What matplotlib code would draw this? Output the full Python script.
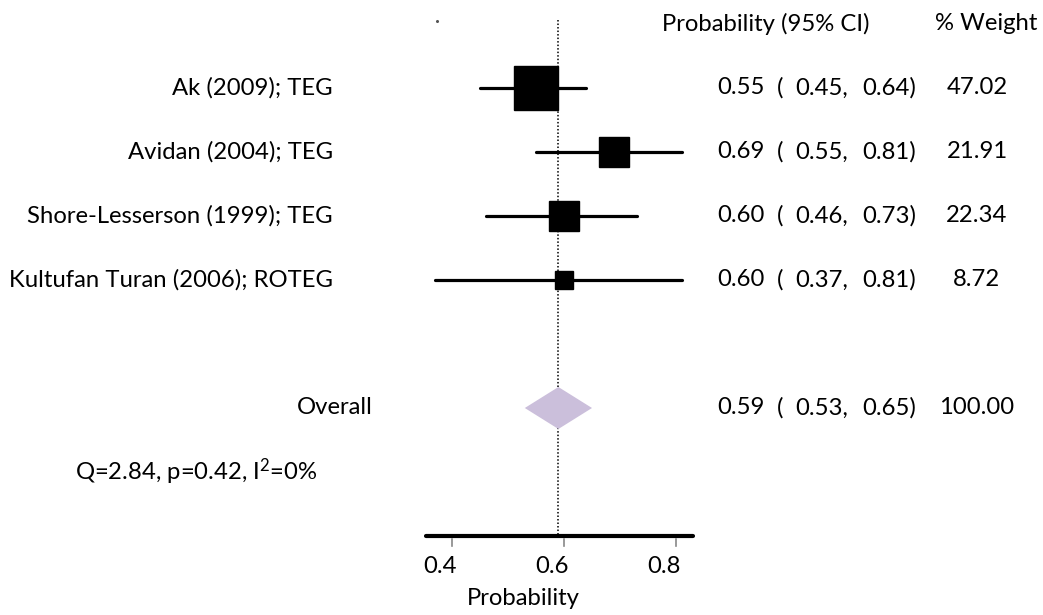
import matplotlib
matplotlib.use("Agg")
import matplotlib.pyplot as plt
from matplotlib.transforms import blended_transform_factory
from matplotlib.patches import Polygon

studies = ["Ak (2009); TEG", "Avidan (2004); TEG", "Shore-Lesserson (1999); TEG",
           "Kultufan Turan (2006); ROTEG"]
est = [0.55, 0.69, 0.60, 0.60]
lo = [0.45, 0.55, 0.46, 0.37]
hi = [0.64, 0.81, 0.73, 0.81]
weight = [47.02, 21.91, 22.34, 8.72]
overall_label = "Overall"
overall_est, overall_lo, overall_hi, overall_w = 0.59, 0.53, 0.65, 100.00
het_text = "Q=2.84, p=0.42, I$^{2}$=0%"
header_ci = "Probability (95% CI)"
header_w = "% Weight"
xticks = [0.4, 0.6, 0.8]
xlabel = "Probability"

FONT = "Lato"
FS = 17.2
plt.rcParams["font.family"] = [FONT, "DejaVu Sans"]
plt.rcParams["mathtext.fontset"] = "custom"
plt.rcParams["mathtext.rm"] = FONT
plt.rcParams["mathtext.it"] = FONT

W, H = 1043, 615
fig = plt.figure(figsize=(W / 100, H / 100), dpi=100)
ax = fig.add_axes([0, 0, 1, 1])
ax.axis("off")
# pixel mapping: 0.4 -> 452px, 0.6 -> 564px ; row r -> 24 + 64 r px
ppu = 560.0
x0 = 0.4 - 452 / ppu
ax.set_xlim(x0, x0 + W / ppu)
ax.set_ylim((H - 24) / 64.0, -24 / 64.0)

def px(xp):
    return xp / W

tr = blended_transform_factory(fig.transFigure, ax.transData)

rows = [1, 2, 3, 4]
row_overall = 6
row_het = 7
row_axis = 8

# reference line
ax.plot([overall_est, overall_est], [-0.06, row_axis], color="black",
        linestyle=(0, (1, 1.3)), linewidth=1.1, zorder=1)

k = 31 / 47.02 ** 0.5
for r, e, l, h, w in zip(rows, est, lo, hi, weight):
    ax.plot([l, h], [r, r], color="black", linewidth=2.3, solid_capstyle="round", zorder=2)
    ax.plot([e], [r], marker="s", color="black", markersize=k * w ** 0.5, zorder=3)

dh = 21 / 64.0
diamond = Polygon([[overall_lo, row_overall], [overall_est, row_overall - dh],
                   [overall_hi, row_overall], [overall_est, row_overall + dh]],
                  closed=True, facecolor="#CBBFDB", edgecolor="none", zorder=3)
ax.add_patch(diamond)

def ci_row(r, e, l, h, w):
    kw = dict(transform=tr, va="center", fontsize=FS)
    ax.text(px(717), r, f"{e:.2f}", ha="left", **kw)
    ax.text(px(777), r, "(", ha="left", **kw)
    ax.text(px(795), r, f"{l:.2f},", ha="left", **kw)
    ax.text(px(862), r, f"{h:.2f})", ha="left", **kw)
    ax.text(px(977), r, f"{w:.2f}", ha="center", **kw)

for r, s, e, l, h, w in zip(rows, studies, est, lo, hi, weight):
    ax.text(px(333), r, s, transform=tr, ha="right", va="center", fontsize=FS)
    ci_row(r, e, l, h, w)

ax.text(px(373), row_overall, overall_label, transform=tr, ha="right", va="center", fontsize=FS)
ci_row(row_overall, overall_est, overall_lo, overall_hi, overall_w)
ax.text(px(75), row_het, het_text, transform=tr, ha="left", va="center", fontsize=FS)

ax.text(px(662), 0, header_ci, transform=tr, ha="left", va="center", fontsize=FS)
ax.text(px(935), 0, header_w, transform=tr, ha="left", va="center", fontsize=FS)
ax.plot([x0 + 437 / ppu], [-3 / 64.0], marker="o", markersize=1.2, color="#555555")

# x axis
ax.plot([0.3536, 0.830], [row_axis, row_axis], color="black", linewidth=3.0,
        solid_capstyle="round", zorder=2)
for t in xticks:
    ax.plot([t, t], [row_axis + 0.04, row_axis + 0.15], color="#888888", linewidth=1.2)
    ax.text(t - 12.5 / ppu, row_axis + 0.47, f"{t:.1f}", ha="center", va="center", fontsize=FS)
ax.text(px(523), row_axis + 0.97, xlabel, transform=tr, ha="center", va="center", fontsize=FS)

fig.savefig("out.png", dpi=100)
